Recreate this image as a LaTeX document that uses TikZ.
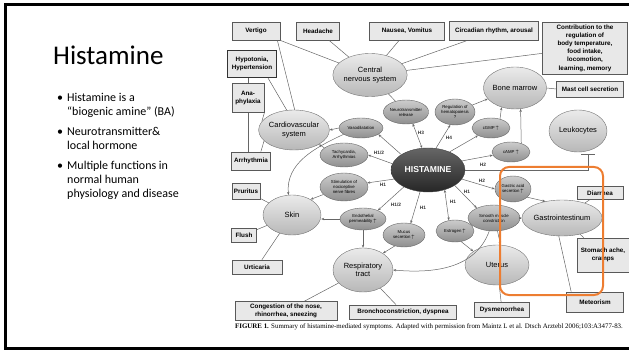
\documentclass[tikz,border=0pt]{standalone}
\usepackage{fontspec}
\setmainfont{Carlito}
\setsansfont{Liberation Sans}
\newfontfamily\didascalia{Liberation Serif}
\usetikzlibrary{shapes.geometric,arrows.meta}
\definecolor{arancio}{HTML}{ED7D31}

\tikzset{
  sintomo/.style={draw=black!65, fill=black!9, line width=0.7pt, align=center, inner sep=1pt,
    font=\sffamily\bfseries\fontsize{6.3}{7.6}\selectfont},
  organo/.style={ellipse, draw=black!55, top color=black!8, bottom color=black!28, align=center,
    inner sep=0pt, font=\sffamily\fontsize{7.5}{8.6}\selectfont},
  effetto/.style={ellipse, draw=black!60, top color=black!20, bottom color=black!44, align=center,
    inner sep=0pt, font=\sffamily\fontsize{4.3}{5}\selectfont},
  linea/.style={draw=black!60, line width=0.5pt},
  freccia/.style={linea, ->},
  recettore/.style={font=\sffamily\bfseries\fontsize{4.8}{5}\selectfont, text=black!80, inner sep=0pt},
  riga/.style={anchor=base west, inner sep=0pt, font=\fontsize{12}{13.5}\selectfont},
}
\newcommand{\su}{\,$\uparrow$}

\begin{document}
\begin{tikzpicture}[x=1pt, y=-1pt, >={Stealth[length=3pt,width=2.4pt]}]
\useasboundingbox (0,0) rectangle (629,358);
% cornice
\draw[line width=2.5pt] (629,4.5) -- (5.5,4.5) -- (5.5,348.5) -- (629,348.5);
% testo
\node[anchor=base west, inner sep=0pt, font=\fontsize{27}{30}\selectfont] (titolo) at (53,65) {Histamine};
\node[riga] (b1) at (57,102) {•};
\node[riga] (r1) at (67,102) {Histamine is a};
\node[riga] (r2) at (67,116) {“biogenic amine” (BA)};
\node[riga] (b2) at (57,136) {•};
\node[riga] (r3) at (67,136) {Neurotransmitter\&};
\node[riga] (r4) at (67,150) {local hormone};
\node[riga] (b3) at (57,170) {•};
\node[riga] (r5) at (67,170) {Multiple functions in};
\node[riga] (r6) at (67,184) {normal human};
\node[riga] (r7) at (67,197) {physiology and disease};
% riquadri
\node[sintomo, minimum width=48, minimum height=18] (ver) at (256,31) {Vertigo};
\node[sintomo, minimum width=43, minimum height=18] (hea) at (318,31) {Headache};
\node[sintomo, minimum width=75, minimum height=18] (nau) at (407,31) {Nausea, Vomitus};
\node[sintomo, minimum width=89, minimum height=19] (cir) at (494,31) {Circadian rhythm, arousal};
\node[sintomo, minimum width=85, minimum height=52, font=\sffamily\bfseries\fontsize{6.3}{8.2}\selectfont] (con) at (585,48)
  {Contribution to the\\regulation of\\body temperature,\\food intake,\\locomotion,\\learning, memory};
\node[sintomo, minimum width=49, minimum height=27, line width=1pt, draw=black!80] (ipo) at (252,64) {Hypotonia,\\Hypertension};
\node[sintomo, minimum width=32, minimum height=29] (ana) at (248,98) {Ana-\\phylaxia};
\node[sintomo, minimum width=39, minimum height=18] (arr) at (251,161) {Arrhythmia};
\node[sintomo, minimum width=28, minimum height=16] (pru) at (246,191) {Pruritus};
\node[sintomo, minimum width=25, minimum height=14] (flu) at (244,235) {Flush};
\node[sintomo, minimum width=50, minimum height=14] (urt) at (257,267) {Urticaria};
\node[sintomo, minimum width=102, minimum height=19] (cng) at (286,311) {Congestion of the nose,\\rhinorrhea, sneezing};
\node[sintomo, minimum width=107, minimum height=14] (bro) at (403,312) {Bronchoconstriction, dyspnea};
\node[sintomo, minimum width=55, minimum height=15] (dys) at (502,310) {Dysmenorrhea};
\node[sintomo, minimum width=57, minimum height=20] (met) at (595,302) {Meteorism};
\node[sintomo, minimum width=52, minimum height=34] (sto) at (603,255) {Stomach ache,\\cramps};
\node[sintomo, minimum width=46, minimum height=13] (dia) at (600,193) {Diarrhea};
\node[sintomo, minimum width=67, minimum height=16] (mas) at (590,89) {Mast cell secretion};
% organi
\node[organo, minimum width=54, minimum height=43] (cns) at (370,75) {Central\\nervous system};
\node[organo, minimum width=60, minimum height=42] (bon) at (515,88) {Bone marrow};
\node[organo, minimum width=58, minimum height=42] (leu) at (578,131) {Leukocytes};
\node[organo, minimum width=66, minimum height=40] (car) at (294,130) {Cardiovascular\\system};
\node[organo, minimum width=58, minimum height=40] (ski) at (292,215) {Skin};
\node[organo, minimum width=60, minimum height=44] (res) at (363,270) {Respiratory\\tract};
\node[organo, minimum width=64, minimum height=40] (ute) at (497,265) {Uterus};
\node[organo, minimum width=68, minimum height=36] (gas) at (562,218) {Gastrointestinum};
% effetti
\node[ellipse, draw=black!75, top color=black!60, bottom color=black!85, minimum width=74, minimum height=44,
  inner sep=0pt, text=white, font=\sffamily\bfseries\fontsize{8.6}{9}\selectfont] (his) at (428,170) {HISTAMINE};
\node[effetto, minimum width=44, minimum height=24] (neu) at (406,112) {Neurotransmitter\\release};
\node[effetto, minimum width=40, minimum height=26] (reg) at (455,112) {Regulation of\\hematopoiesis\\?};
\node[effetto, minimum width=38, minimum height=20] (cgm) at (491,128) {cGMP\su};
\node[effetto, minimum width=38, minimum height=20] (cam) at (511,152) {cAMP\su};
\node[effetto, minimum width=44, minimum height=20] (vas) at (361,128) {Vasodilatation};
\node[effetto, minimum width=48, minimum height=24] (tac) at (344,155) {Tachycardia,\\Arrhythmias};
\node[effetto, minimum width=48, minimum height=28] (sti) at (344,187) {Stimulation of\\nociceptive\\nerve fibres};
\node[effetto, minimum width=46, minimum height=22] (end) at (363,219) {Endothelial\\permeability\su};
\node[effetto, minimum width=42, minimum height=24] (muc) at (404,235) {Mucus\\secretion\su};
\node[effetto, minimum width=38, minimum height=22] (est) at (455,231) {Estrogen\su};
\node[effetto, minimum width=52, minimum height=26] (smo) at (494,218) {Smooth muscle\\constriction};
\node[effetto, minimum width=36, minimum height=26] (gaa) at (513,189) {Gastric acid\\secretion\su};
% sintomi - organi
\draw[linea] (ver) -- (cns);
\draw[linea] ([xshift=-3pt]ver.south east) -- (car.88);
\draw[linea] (hea) -- (cns);
\draw[linea] (nau) -- (cns);
\draw[linea] (cir) -- (cns);
\draw[linea] (con) -- (cns);
\draw[linea] ([xshift=-9pt]ipo.south east) -- (car.110);
\draw[linea] (ana.north) -- (ana.north |- ipo.south);
\draw[linea] (ana.south) -- (ana.south |- arr.north);
\draw[linea] (ana.south east) -- (car.165);
\draw[linea] ([xshift=-10pt]arr.north east) -- (car.200);
\draw[linea] (pru) -- (ski);
\draw[linea] (flu) -- (ski);
\draw[linea] (urt) -- (ski);
\draw[linea] (cng) -- (res);
\draw[linea] (bro) -- (res);
\draw[linea] (dys) -- (ute);
\draw[linea] ([xshift=5pt]met.north west) -- (gas.260);
\draw[linea] (sto) -- (gas);
\draw[linea] (dia) -- (gas);
\draw[linea] (mas.west) -- (bon.east);
\draw[linea] (cns) -- (neu);
% istamina
\draw[linea, <->] (his.105) -- (neu.-60);
\draw[freccia] (his.70) -- (reg.-110);
\draw[freccia] (reg) -- (bon);
\draw[freccia] (his.40) -- (cgm.210);
\draw[freccia] (cgm.45) -- (bon.-125);
\draw[freccia] (his.15) -- (cam.190);
\draw[freccia] (cam.40) -- (bon.-75);
\coordinate (leuT) at (588,154);
\draw[linea, -{Bar[width=14pt]}] (his.east) -| (leuT);
\draw[freccia] (his.150) -- (vas.-20);
\draw[freccia] (vas.west) -- (car.east);
\draw[freccia] (vas.200) to[out=205, in=95] (ski.100);
\draw[freccia] (his.170) -- (tac.east);
\draw[freccia] (tac.160) -- (car.-30);
\draw[freccia] (his.195) -- (sti.10);
\draw[freccia] (sti.200) -- (ski.40);
\draw[freccia] (his.215) -- (end.30);
\draw[freccia] (end.west) -- (end.west -| ski.east);
\draw[freccia] (end.south) -- (res.north);
\draw[freccia] (his.250) -- (muc.60);
\draw[freccia] (muc.230) -- (res.40);
\draw[linea, <->] (his.-50) -- (est.120);
\draw[freccia] (est.-60) -- (ute.150);
\draw[freccia] (his.-30) -- (smo.150);
\draw[freccia] (smo.east) -- (gas.west);
\draw[freccia] (smo.-75) -- (ute.80);
\draw[freccia] (smo.250) to[out=250, in=-5] (res.east);
\draw[freccia] (his.-15) -- (gaa.west);
\draw[freccia] (gaa.-30) -- (gas.135);
% recettori
\node[recettore] (h3) at (421,133) {H3};
\node[recettore] (h4) at (449,138) {H4};
\node[recettore] (h2a) at (483,165) {H2};
\node[recettore] (h2b) at (482,181) {H2};
\node[recettore] (h1a) at (467,192) {H1};
\node[recettore] (h1b) at (453,202) {H1};
\node[recettore] (h1c) at (423,208) {H1};
\node[recettore] (h1d) at (383,185) {H1};
\node[recettore] (h12a) at (379,153) {H1/2};
\node[recettore] (h12b) at (396,205) {H1/2};
% didascalia
\node[anchor=west, inner sep=0pt, font=\didascalia\fontsize{6.9}{7.5}\selectfont] (fig) at (235,327)
  {\textbf{FIGURE 1.} Summary of histamine-mediated symptoms. Adapted with permission from Maintz L et al. Dtsch Arztebl 2006;103:A3477-83.};
% riquadro arancio
\draw[arancio, line width=2pt, rounded corners=9pt] (500,167) rectangle (603,295);
\end{tikzpicture}
\end{document}
